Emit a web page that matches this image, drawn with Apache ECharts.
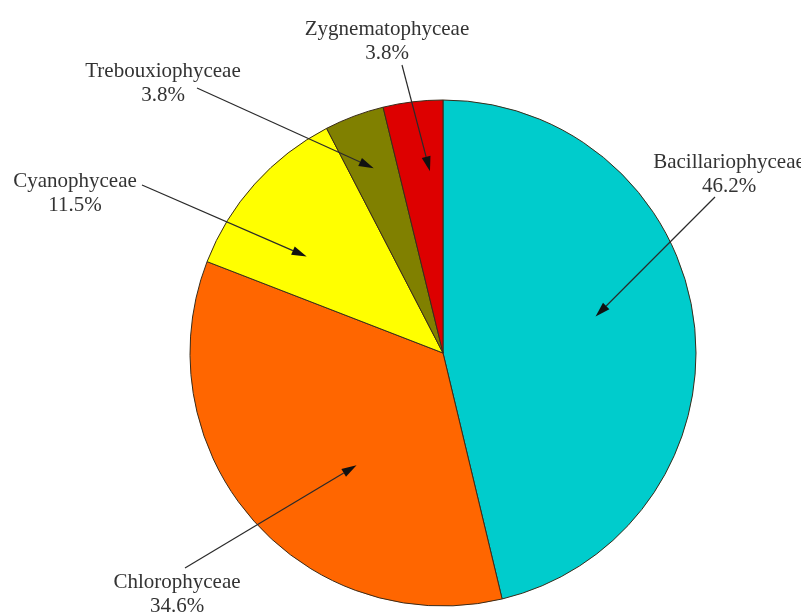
<!DOCTYPE html>
<html>
<head>
<meta charset="utf-8">
<script src="https://cdn.jsdelivr.net/npm/echarts@6/dist/echarts.min.js"></script>
<style>
  html, body { margin: 0; padding: 0; background: #fff; }
  #chart { width: 801px; height: 613px; }
</style>
</head>
<body>
<div id="chart"></div>
<script>
// algae classes, clockwise from 12 o'clock
const classNames = ['Bacillariophyceae', 'Chlorophyceae', 'Cyanophyceae', 'Trebouxiophyceae', 'Zygnematophyceae'];
const sharePct = [46.2, 34.6, 11.5, 3.8, 3.8];
const sliceColors = ['#00CCCC', '#FF6600', '#FFFF00', '#808000', '#DD0000'];

// annotation layout: label centre, arrow tail, arrow tip (fraction across slice, fraction of radius)
const labelPos = [[729, 162], [177, 582], [75, 181], [163, 71], [387, 29]];
const arrowTail = [[715, 197], [185, 568], [142, 185], [197, 88], [402, 65]];
const tipAcross = [0.46, 0.41, 0.34, 0.5, 0.7];
const tipRadius = [0.62, 0.56, 0.66, 0.78, 0.72];

const pieCenter = [443, 353];
const pieRadius = 253;

const chart = echarts.init(document.getElementById('chart'), null, { renderer: 'canvas' });

const total = sharePct.reduce((a, b) => a + b, 0);
const graphics = [];
let acc = 0;
sharePct.forEach((v, i) => {
  const a0 = acc / total * 360;
  acc += v;
  const a1 = acc / total * 360;
  const ang = (a0 + (a1 - a0) * tipAcross[i]) * Math.PI / 180;
  const r = pieRadius * tipRadius[i];
  const tx = pieCenter[0] + r * Math.sin(ang);
  const ty = pieCenter[1] - r * Math.cos(ang);
  const [sx, sy] = arrowTail[i];

  // arrow shaft + head
  const dx = tx - sx, dy = ty - sy;
  const len = Math.sqrt(dx * dx + dy * dy);
  const ux = dx / len, uy = dy / len;
  const headLen = 15, headW = 4.5;
  const bx = tx - ux * headLen, by = ty - uy * headLen;
  graphics.push({
    type: 'line', z: 10,
    shape: { x1: sx, y1: sy, x2: bx, y2: by },
    style: { stroke: '#2a2a2a', lineWidth: 1.2 }
  });
  graphics.push({
    type: 'polygon', z: 10,
    shape: { points: [[tx, ty], [bx - uy * headW, by + ux * headW], [bx + uy * headW, by - ux * headW]] },
    style: { fill: '#111' }
  });

  const [lx, ly] = labelPos[i];
  graphics.push({
    type: 'text', z: 10,
    style: {
      text: classNames[i], x: lx, y: ly, textAlign: 'center', textVerticalAlign: 'middle',
      font: '21px "Liberation Serif", "DejaVu Serif", serif', fill: '#333'
    }
  });
  graphics.push({
    type: 'text', z: 10,
    style: {
      text: v.toFixed(1) + '%', x: lx, y: ly + 24, textAlign: 'center', textVerticalAlign: 'middle',
      font: '21px "Liberation Serif", "DejaVu Serif", serif', fill: '#333'
    }
  });
});

chart.setOption({
  backgroundColor: '#ffffff',
  animation: false,
  series: [{
    type: 'pie',
    center: pieCenter,
    radius: pieRadius,
    startAngle: 90,
    clockwise: true,
    label: { show: false },
    labelLine: { show: false },
    emphasis: { disabled: true },
    itemStyle: { borderColor: '#3a2c1a', borderWidth: 1 },
    data: classNames.map((n, i) => ({ name: n, value: sharePct[i], itemStyle: { color: sliceColors[i] } }))
  }],
  graphic: graphics
});
</script>
</body>
</html>
